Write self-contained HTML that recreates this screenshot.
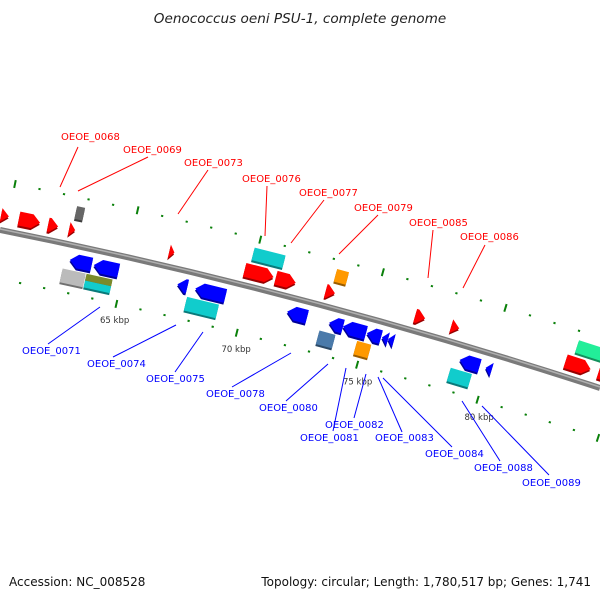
<!DOCTYPE html>
<html><head><meta charset="utf-8"><style>
body{margin:0;background:#fff}
svg{display:block;font-family:"DejaVu Sans","Liberation Sans",sans-serif}
</style></head><body>
<svg id="chart" width="600" height="600" viewBox="0 0 600 600">
<text x="300" y="23" text-anchor="middle" font-size="13.6" font-style="italic" fill="#222">Oenococcus oeni PSU-1, complete genome</text>
<path d="M0,230 Q300,290 600,388" stroke="#7a7a7a" stroke-width="6" fill="none"/>
<path d="M0,229 Q300,289 600,387" stroke="#b0b0b0" stroke-width="1.5" fill="none"/>
<g id="ticks"></g>
<g id="genes"></g>
<g font-size="10" fill="#ff0000" stroke-width="1">
<text x="61" y="140">OEOE_0068</text><line x1="78" y1="147" x2="60" y2="187" stroke="#f00"/>
<text x="123" y="153">OEOE_0069</text><line x1="148" y1="157" x2="78" y2="191" stroke="#f00"/>
<text x="184" y="166">OEOE_0073</text><line x1="208" y1="170" x2="178" y2="214" stroke="#f00"/>
<text x="242" y="182">OEOE_0076</text><line x1="267" y1="186" x2="265" y2="236" stroke="#f00"/>
<text x="299" y="196">OEOE_0077</text><line x1="324" y1="200" x2="291" y2="243" stroke="#f00"/>
<text x="354" y="211">OEOE_0079</text><line x1="378" y1="215" x2="339" y2="254" stroke="#f00"/>
<text x="409" y="226">OEOE_0085</text><line x1="433" y1="230" x2="428" y2="278" stroke="#f00"/>
<text x="460" y="240">OEOE_0086</text><line x1="485" y1="245" x2="463" y2="288" stroke="#f00"/>
</g>
<g font-size="10" fill="#0000ff">
<text x="22" y="354">OEOE_0071</text><line x1="100" y1="307" x2="48" y2="344" stroke="#00f"/>
<text x="87" y="367">OEOE_0074</text><line x1="176" y1="325" x2="113" y2="357" stroke="#00f"/>
<text x="146" y="382">OEOE_0075</text><line x1="203" y1="332" x2="175" y2="372" stroke="#00f"/>
<text x="206" y="397">OEOE_0078</text><line x1="291" y1="353" x2="232" y2="387" stroke="#00f"/>
<text x="259" y="411">OEOE_0080</text><line x1="328" y1="364" x2="286" y2="401" stroke="#00f"/>
<text x="325" y="428">OEOE_0082</text><line x1="366" y1="374" x2="354" y2="418" stroke="#00f"/>
<text x="300" y="441">OEOE_0081</text><line x1="346" y1="368" x2="333" y2="431" stroke="#00f"/>
<text x="375" y="441">OEOE_0083</text><line x1="378" y1="377" x2="402" y2="432" stroke="#00f"/>
<text x="425" y="457">OEOE_0084</text><line x1="383" y1="378" x2="452" y2="447" stroke="#00f"/>
<text x="474" y="471">OEOE_0088</text><line x1="462" y1="401" x2="500" y2="461" stroke="#00f"/>
<text x="522" y="486">OEOE_0089</text><line x1="482" y1="406" x2="549" y2="475" stroke="#00f"/>
</g>
<text x="9" y="586" font-size="12" fill="#111">Accession: NC_008528</text>
<text x="591" y="586" font-size="12" fill="#111" text-anchor="end">Topology: circular; Length: 1,780,517 bp; Genes: 1,741</text>
</svg>
<script>
const tickKbp = [59,60,61,62,63,64,65,66,67,68,69,70,71,72,73,74,75,76,77,78,79,80,81,82,83,84,85];
const majorLabels = [65,70,75,80];
const geneStart = [59.7,60.43,61.63,62.61,62.49,66.60,69.86,69.69,70.97,73.23,73.02,76.69,78.17,83.11,82.86,84.22,
  62.78,63.77,62.57,63.56,63.56,67.22,67.96,67.72,71.75,73.48,74.05,75.04,75.66,75.91,73.19,74.75,78.87,79.94,78.62];
const geneEnd = [60.02,61.30,62.04,62.94,62.74,66.81,71.13,70.88,71.79,73.72,73.40,77.10,78.50,84.22,83.89,84.9,
  63.68,64.79,63.52,64.63,64.63,67.63,69.20,69.03,72.57,74.05,75.00,75.62,75.91,76.15,73.85,75.33,79.69,80.19,79.49];
const geneStrand = [1,1,1,1,1,1,1,1,1,1,1,1,1,1,1,1, -1,-1,-1,-1,-1,-1,-1,-1,-1,-1,-1,-1,-1,-1,-1,-1,-1,-1,-1];
const geneRow = [1,1,1,2,1,1,2,1,1,2,1,1,1,2,1,1, 1,1,2,2,3,1,1,2,1,1,1,1,1,1,2,2,1,1,2];
const geneColor = ["#f00","#f00","#f00","#666","#f00","#f00","#1cc","#f00","#f00","#f90","#f00","#f00","#f00","#2e9","#f00","#f00",
  "#00f","#00f","#bbb","#7a8a2a","#1cc","#00f","#00f","#1cc","#00f","#00f","#00f","#00f","#00f","#00f","#4a7aaa","#f90","#00f","#00f","#1cc"];
const geneShape = ["arrow","arrow","arrow","box","arrow","arrow","box","arrow","arrow","box","arrow","arrow","arrow","box","arrow","arrow",
  "arrow","arrow","box","box","box","arrow","arrow","box","arrow","arrow","arrow","arrow","arrow","arrow","box","box","arrow","arrow","box"];

const NS="http://www.w3.org/2000/svg";
function xOf(k){return 127+(k-65)*24.3;}
function yOf(x){return 230+0.2*x+0.0001056*x*x;}
function angOf(x){return Math.atan(0.2+0.0002112*x);}
function darker(c){
  const h=c.length===4?c.slice(1).split('').map(d=>parseInt(d+d,16)):[1,3,5].map(i=>parseInt(c.substr(i,2),16));
  return 'rgb('+h.map(v=>Math.round(v*0.6)).join(',')+')';
}
const tg=document.getElementById('ticks');
tickKbp.forEach(k=>{
  const x=xOf(k),y=yOf(x),a=angOf(x),nx=Math.sin(a),ny=-Math.cos(a);
  const major=k%5===0;
  [-1,1].forEach(side=>{
    const off=side<0?48:-48;
    const cx=x+nx*off, cy=y+ny*off, len=major?4:1;
    const l=document.createElementNS(NS,'line');
    l.setAttribute('x1',cx-nx*len);l.setAttribute('y1',cy-ny*len);
    l.setAttribute('x2',cx+nx*len);l.setAttribute('y2',cy+ny*len);
    l.setAttribute('stroke','#0a800a');l.setAttribute('stroke-width',major?2:2.2);
    
    
    tg.appendChild(l);
  });
  if(majorLabels.includes(k)){
    const t=document.createElementNS(NS,'text');
    t.setAttribute('x',x-27);t.setAttribute('y',y+66);
    t.setAttribute('font-size','8.5');t.setAttribute('fill','#333');
    t.textContent=k+' kbp';
    
    
    tg.appendChild(t);
  }
});
const gg=document.getElementById('genes');
const rows={"1":[-22,-8],"-1":[8,22],"2":[-39,-26],"-2":[25,32],"-3":[32,39]};
const rowsRev2={2:[25,39],3:[32,39]};
geneStart.forEach((s,i)=>{
  const x0=xOf(s),x1=xOf(geneEnd[i]),y0=yOf(x0),a=angOf((x0+x1)/2);
  const L=(x1-x0)/Math.cos(a);
  let v;
  if(geneStrand[i]>0) v=geneRow[i]===1?rows["1"]:rows["2"];
  else v=geneRow[i]===1?rows["-1"]:(geneRow[i]===2?(geneColor[i]==="#bbb"||geneColor[i]==="#7a8a2a"?rows["-2"]:rowsRev2[2]):rows["-3"]);
  if(geneColor[i]==="#bbb") v=[25,39];
  const g=document.createElementNS(NS,'g');
  g.setAttribute('transform',`translate(${x0},${y0}) rotate(${a*180/Math.PI})`);
  
  
  let pts;
  const [a0,a1]=v, m=(a0+a1)/2, h=Math.min(8,L);
  if(geneShape[i]==="box") pts=[[0,a0],[L,a0],[L,a1],[0,a1]];
  else if(geneStrand[i]>0) pts=L<=9?[[0,a0],[L,m],[0,a1]]:[[0,a0],[L-h,a0],[L,m],[L-h,a1],[0,a1]];
  else pts=L<=9?[[L,a0],[0,m],[L,a1]]:[[h,a0],[L,a0],[L,a1],[h,a1],[0,m]];
  const shadow=document.createElementNS(NS,'polygon');
  shadow.setAttribute('points',pts.map(p=>p[0]+','+(p[1]+2)).join(' '));
  shadow.setAttribute('fill',darker(geneColor[i]));
  
  
  const poly=document.createElementNS(NS,'polygon');
  poly.setAttribute('points',pts.map(p=>p[0]+','+p[1]).join(' '));
  poly.setAttribute('fill',geneColor[i]);
  
  
  g.appendChild(shadow);g.appendChild(poly);
  gg.appendChild(g);
});
</script>
</body></html>
